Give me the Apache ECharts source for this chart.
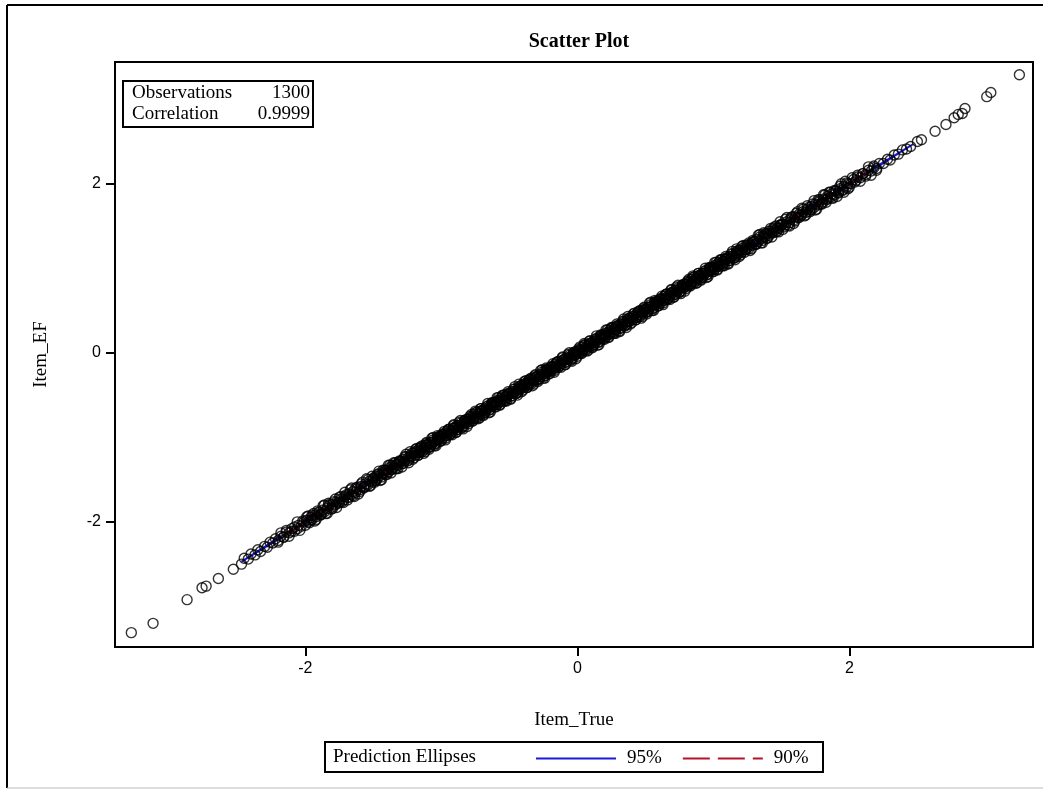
<!DOCTYPE html>
<html>
<head>
<meta charset="utf-8">
<script src="https://cdn.jsdelivr.net/npm/echarts@6/dist/echarts.min.js"></script>
<style>
html,body{margin:0;padding:0;background:#fff;}
#chart{width:1043px;height:789px;}
</style>
</head>
<body>
<div id="chart"></div>
<script>
// ---- data ----
const titleText = 'Scatter Plot';
const xName = 'Item_True';
const yName = 'Item_EF';
const tickValues = [-2, 0, 2];
const statsLabels = ['Observations', 'Correlation'];
const statsValues = ['1300', '0.9999'];
const legendTitle = 'Prediction Ellipses';
const ellipseNames = ['95%', '90%'];

// scatter points [Item_True, Item_EF]
const pointsLowTail = [
  [-3.28,-3.31],[-3.12,-3.20],[-2.87,-2.92],[-2.76,-2.78],[-2.73,-2.76],[-2.64,-2.67],[-2.53,-2.56],[-2.47,-2.50],
  [-2.45,-2.43],[-2.42,-2.44],[-2.40,-2.38],[-2.37,-2.39],[-2.35,-2.33],[-2.33,-2.35],[-2.30,-2.29],[-2.28,-2.30],
  [-2.26,-2.24],[-2.24,-2.25],[-2.22,-2.20],[-2.20,-2.22],[-2.18,-2.17],[-2.16,-2.18],[-2.14,-2.12],[-2.12,-2.13],
  [-2.10,-2.11],[-2.08,-2.06],[-2.06,-2.08],[-2.05,-2.04],[-2.03,-2.05],[-2.01,-2.00],
  [-1.99,-1.98],[-1.98,-2.00],[-1.96,-1.95],[-1.95,-1.97],[-1.93,-1.92],[-1.92,-1.94],[-1.90,-1.89],[-1.89,-1.91],
  [-1.87,-1.86],[-1.86,-1.88],[-1.84,-1.84],[-1.83,-1.81],[-1.81,-1.83],[-1.80,-1.79],[-1.78,-1.80],[-1.77,-1.76],
  [-1.75,-1.77],[-1.74,-1.73],[-1.72,-1.74],[-1.71,-1.70],[-1.69,-1.71],[-1.68,-1.67],[-1.66,-1.68],[-1.65,-1.64],
  [-1.63,-1.65],[-1.62,-1.61],[-1.60,-1.62],[-1.59,-1.58],[-1.57,-1.59],[-1.56,-1.55],[-1.54,-1.56],[-1.53,-1.52],[-1.51,-1.53]
];
const pointsCore = [
  [-1.50,-1.49],[-1.49,-1.51],[-1.48,-1.46],[-1.47,-1.48],[-1.46,-1.43],[-1.45,-1.45],[-1.44,-1.47],[-1.43,-1.42],[-1.42,-1.43],[-1.41,-1.39],
  [-1.40,-1.39],[-1.39,-1.41],[-1.38,-1.36],[-1.37,-1.38],[-1.36,-1.33],[-1.35,-1.35],[-1.34,-1.37],[-1.33,-1.32],[-1.32,-1.33],[-1.31,-1.29],
  [-1.30,-1.29],[-1.29,-1.31],[-1.28,-1.26],[-1.27,-1.28],[-1.26,-1.23],[-1.25,-1.25],[-1.24,-1.27],[-1.23,-1.22],[-1.22,-1.23],[-1.21,-1.19],
  [-1.20,-1.19],[-1.19,-1.21],[-1.18,-1.16],[-1.17,-1.18],[-1.16,-1.13],[-1.15,-1.15],[-1.14,-1.17],[-1.13,-1.12],[-1.12,-1.13],[-1.11,-1.09],
  [-1.10,-1.09],[-1.09,-1.11],[-1.08,-1.06],[-1.07,-1.08],[-1.06,-1.03],[-1.05,-1.05],[-1.04,-1.07],[-1.03,-1.02],[-1.02,-1.03],[-1.01,-0.99],
  [-1.00,-0.99],[-0.99,-1.01],[-0.98,-0.96],[-0.97,-0.98],[-0.96,-0.93],[-0.95,-0.95],[-0.94,-0.97],[-0.93,-0.92],[-0.92,-0.93],[-0.91,-0.89],
  [-0.90,-0.89],[-0.89,-0.91],[-0.88,-0.86],[-0.87,-0.88],[-0.86,-0.83],[-0.85,-0.85],[-0.84,-0.87],[-0.83,-0.82],[-0.82,-0.83],[-0.81,-0.79],
  [-0.80,-0.79],[-0.79,-0.81],[-0.78,-0.76],[-0.77,-0.78],[-0.76,-0.73],[-0.75,-0.75],[-0.74,-0.77],[-0.73,-0.72],[-0.72,-0.73],[-0.71,-0.69],
  [-0.70,-0.69],[-0.69,-0.71],[-0.68,-0.66],[-0.67,-0.68],[-0.66,-0.63],[-0.65,-0.65],[-0.64,-0.67],[-0.63,-0.62],[-0.62,-0.63],[-0.61,-0.59],
  [-0.60,-0.59],[-0.59,-0.61],[-0.58,-0.56],[-0.57,-0.58],[-0.56,-0.53],[-0.55,-0.55],[-0.54,-0.57],[-0.53,-0.52],[-0.52,-0.53],[-0.51,-0.49],
  [-0.50,-0.49],[-0.49,-0.51],[-0.48,-0.46],[-0.47,-0.48],[-0.46,-0.43],[-0.45,-0.45],[-0.44,-0.47],[-0.43,-0.42],[-0.42,-0.43],[-0.41,-0.39],
  [-0.40,-0.39],[-0.39,-0.41],[-0.38,-0.36],[-0.37,-0.38],[-0.36,-0.33],[-0.35,-0.35],[-0.34,-0.37],[-0.33,-0.32],[-0.32,-0.33],[-0.31,-0.29],
  [-0.30,-0.29],[-0.29,-0.31],[-0.28,-0.26],[-0.27,-0.28],[-0.26,-0.23],[-0.25,-0.25],[-0.24,-0.27],[-0.23,-0.22],[-0.22,-0.23],[-0.21,-0.19],
  [-0.20,-0.19],[-0.19,-0.21],[-0.18,-0.16],[-0.17,-0.18],[-0.16,-0.13],[-0.15,-0.15],[-0.14,-0.17],[-0.13,-0.12],[-0.12,-0.13],[-0.11,-0.09],
  [-0.10,-0.09],[-0.09,-0.11],[-0.08,-0.06],[-0.07,-0.08],[-0.06,-0.03],[-0.05,-0.05],[-0.04,-0.07],[-0.03,-0.02],[-0.02,-0.03],[-0.01,0.01],
  [0.00,0.01],[0.01,-0.01],[0.02,0.04],[0.03,0.02],[0.04,0.07],[0.05,0.05],[0.06,0.03],[0.07,0.08],[0.08,0.07],[0.09,0.11],
  [0.10,0.11],[0.11,0.09],[0.12,0.14],[0.13,0.12],[0.14,0.17],[0.15,0.15],[0.16,0.13],[0.17,0.18],[0.18,0.17],[0.19,0.21],
  [0.20,0.21],[0.21,0.19],[0.22,0.24],[0.23,0.22],[0.24,0.27],[0.25,0.25],[0.26,0.23],[0.27,0.28],[0.28,0.27],[0.29,0.31],
  [0.30,0.31],[0.31,0.29],[0.32,0.34],[0.33,0.32],[0.34,0.37],[0.35,0.35],[0.36,0.33],[0.37,0.38],[0.38,0.37],[0.39,0.41],
  [0.40,0.41],[0.41,0.39],[0.42,0.44],[0.43,0.42],[0.44,0.47],[0.45,0.45],[0.46,0.43],[0.47,0.48],[0.48,0.47],[0.49,0.51],
  [0.50,0.51],[0.51,0.49],[0.52,0.54],[0.53,0.52],[0.54,0.57],[0.55,0.55],[0.56,0.53],[0.57,0.58],[0.58,0.57],[0.59,0.61],
  [0.60,0.61],[0.61,0.59],[0.62,0.64],[0.63,0.62],[0.64,0.67],[0.65,0.65],[0.66,0.63],[0.67,0.68],[0.68,0.67],[0.69,0.71],
  [0.70,0.71],[0.71,0.69],[0.72,0.74],[0.73,0.72],[0.74,0.77],[0.75,0.75],[0.76,0.73],[0.77,0.78],[0.78,0.77],[0.79,0.81],
  [0.80,0.81],[0.81,0.79],[0.82,0.84],[0.83,0.82],[0.84,0.87],[0.85,0.85],[0.86,0.83],[0.87,0.88],[0.88,0.87],[0.89,0.91],
  [0.90,0.91],[0.91,0.89],[0.92,0.94],[0.93,0.92],[0.94,0.97],[0.95,0.95],[0.96,0.93],[0.97,0.98],[0.98,0.97],[0.99,1.01],
  [1.00,1.01],[1.01,0.99],[1.02,1.04],[1.03,1.02],[1.04,1.07],[1.05,1.05],[1.06,1.03],[1.07,1.08],[1.08,1.07],[1.09,1.11],
  [1.10,1.11],[1.11,1.09],[1.12,1.14],[1.13,1.12],[1.14,1.17],[1.15,1.15],[1.16,1.13],[1.17,1.18],[1.18,1.17],[1.19,1.21],
  [1.20,1.21],[1.21,1.19],[1.22,1.24],[1.23,1.22],[1.24,1.27],[1.25,1.25],[1.26,1.23],[1.27,1.28],[1.28,1.27],[1.29,1.31],
  [1.30,1.31],[1.31,1.29],[1.32,1.34],[1.33,1.32],[1.34,1.37],[1.35,1.35],[1.36,1.33],[1.37,1.38],[1.38,1.37],[1.39,1.41],
  [1.40,1.41],[1.41,1.39],[1.42,1.44],[1.43,1.42],[1.44,1.47],[1.45,1.45],[1.46,1.43],[1.47,1.48],[1.48,1.47],[1.49,1.51],[1.50,1.51]
];
const pointsSpread = [
  [-1.99,-1.94],[-1.97,-2.01],[-1.95,-1.92],[-1.93,-1.99],[-1.91,-1.87],[-1.89,-1.92],[-1.87,-1.81],[-1.85,-1.90],[-1.83,-1.78],[-1.81,-1.85],
  [-1.79,-1.76],[-1.77,-1.83],[-1.75,-1.71],[-1.73,-1.76],[-1.71,-1.65],[-1.69,-1.74],[-1.67,-1.62],[-1.65,-1.69],[-1.63,-1.60],[-1.61,-1.67],
  [-1.59,-1.55],[-1.57,-1.60],[-1.55,-1.49],[-1.53,-1.58],[-1.51,-1.46],[-1.49,-1.53],[-1.47,-1.44],[-1.45,-1.51],[-1.43,-1.39],[-1.41,-1.44],
  [-1.39,-1.33],[-1.37,-1.42],[-1.35,-1.30],[-1.33,-1.37],[-1.31,-1.28],[-1.29,-1.35],[-1.27,-1.23],[-1.25,-1.28],[-1.23,-1.17],[-1.21,-1.26],
  [-1.19,-1.14],[-1.17,-1.21],[-1.15,-1.12],[-1.13,-1.19],[-1.11,-1.07],[-1.09,-1.12],[-1.07,-1.01],[-1.05,-1.10],[-1.03,-0.98],[-1.01,-1.05],
  [-0.99,-0.96],[-0.97,-1.03],[-0.95,-0.91],[-0.93,-0.96],[-0.91,-0.85],[-0.89,-0.94],[-0.87,-0.82],[-0.85,-0.89],[-0.83,-0.80],[-0.81,-0.87],
  [-0.79,-0.75],[-0.77,-0.80],[-0.75,-0.69],[-0.73,-0.78],[-0.71,-0.66],[-0.69,-0.73],[-0.67,-0.64],[-0.65,-0.71],[-0.63,-0.59],[-0.61,-0.64],
  [-0.59,-0.53],[-0.57,-0.62],[-0.55,-0.50],[-0.53,-0.57],[-0.51,-0.48],[-0.49,-0.55],[-0.47,-0.43],[-0.45,-0.48],[-0.43,-0.37],[-0.41,-0.46],
  [-0.39,-0.34],[-0.37,-0.41],[-0.35,-0.32],[-0.33,-0.39],[-0.31,-0.27],[-0.29,-0.32],[-0.27,-0.21],[-0.25,-0.30],[-0.23,-0.18],[-0.21,-0.25],
  [-0.19,-0.16],[-0.17,-0.23],[-0.15,-0.11],[-0.13,-0.16],[-0.11,-0.05],[-0.09,-0.14],[-0.07,-0.02],[-0.05,-0.09],[-0.03,0.00],[-0.01,-0.07],
  [0.01,0.05],[0.03,0.00],[0.05,0.11],[0.07,0.02],[0.09,0.14],[0.11,0.07],[0.13,0.16],[0.15,0.09],[0.17,0.21],[0.19,0.16],
  [0.21,0.27],[0.23,0.18],[0.25,0.30],[0.27,0.23],[0.29,0.32],[0.31,0.25],[0.33,0.37],[0.35,0.32],[0.37,0.43],[0.39,0.34],
  [0.41,0.46],[0.43,0.39],[0.45,0.48],[0.47,0.41],[0.49,0.53],[0.51,0.48],[0.53,0.59],[0.55,0.50],[0.57,0.62],[0.59,0.55],
  [0.61,0.64],[0.63,0.57],[0.65,0.69],[0.67,0.64],[0.69,0.75],[0.71,0.66],[0.73,0.78],[0.75,0.71],[0.77,0.80],[0.79,0.73],
  [0.81,0.85],[0.83,0.80],[0.85,0.91],[0.87,0.82],[0.89,0.94],[0.91,0.87],[0.93,0.96],[0.95,0.89],[0.97,1.01],[0.99,0.96],
  [1.01,1.07],[1.03,0.98],[1.05,1.10],[1.07,1.03],[1.09,1.12],[1.11,1.05],[1.13,1.17],[1.15,1.12],[1.17,1.23],[1.19,1.14],
  [1.21,1.26],[1.23,1.19],[1.25,1.28],[1.27,1.21],[1.29,1.33],[1.31,1.28],[1.33,1.39],[1.35,1.30],[1.37,1.42],[1.39,1.35],
  [1.41,1.44],[1.43,1.37],[1.45,1.49],[1.47,1.44],[1.49,1.55],[1.51,1.46],[1.53,1.58],[1.55,1.51],[1.57,1.60],[1.59,1.53],
  [1.61,1.65],[1.63,1.60],[1.65,1.71],[1.67,1.62],[1.69,1.74],[1.71,1.67],[1.73,1.76],[1.75,1.69],[1.77,1.81],[1.79,1.76],
  [1.81,1.87],[1.83,1.78],[1.85,1.90],[1.87,1.83],[1.89,1.92],[1.91,1.85],[1.93,1.97],[1.95,1.92],[1.97,2.03],[1.99,1.94]
];
const pointsSpread2 = [
  [-2.20,-2.24],[-2.18,-2.13],[-2.16,-2.18],[-2.14,-2.10],[-2.12,-2.17],[-2.10,-2.08],[-2.08,-2.11],[-2.06,-2.00],[-2.04,-2.10],[-2.02,-1.99],
  [-2.00,-2.04],[-1.98,-1.93],[-1.96,-1.98],[-1.94,-1.90],[-1.92,-1.97],[-1.90,-1.88],[-1.88,-1.91],[-1.86,-1.80],[-1.84,-1.90],[-1.82,-1.79],
  [-1.80,-1.84],[-1.78,-1.73],[-1.76,-1.78],[-1.74,-1.70],[-1.72,-1.77],[-1.70,-1.68],[-1.68,-1.71],[-1.66,-1.60],[-1.64,-1.70],[-1.62,-1.59],
  [-1.60,-1.64],[-1.58,-1.53],[-1.56,-1.58],[-1.54,-1.50],[-1.52,-1.57],[-1.50,-1.48],[-1.48,-1.51],[-1.46,-1.40],[-1.44,-1.50],[-1.42,-1.39],
  [-1.40,-1.44],[-1.38,-1.33],[-1.36,-1.38],[-1.34,-1.30],[-1.32,-1.37],[-1.30,-1.28],[-1.28,-1.31],[-1.26,-1.20],[-1.24,-1.30],[-1.22,-1.19],
  [-1.20,-1.24],[-1.18,-1.13],[-1.16,-1.18],[-1.14,-1.10],[-1.12,-1.17],[-1.10,-1.08],[-1.08,-1.11],[-1.06,-1.00],[-1.04,-1.10],[-1.02,-0.99],
  [-1.00,-1.04],[-0.98,-0.93],[-0.96,-0.98],[-0.94,-0.90],[-0.92,-0.97],[-0.90,-0.88],[-0.88,-0.91],[-0.86,-0.80],[-0.84,-0.90],[-0.82,-0.79],
  [-0.80,-0.84],[-0.78,-0.73],[-0.76,-0.78],[-0.74,-0.70],[-0.72,-0.77],[-0.70,-0.68],[-0.68,-0.71],[-0.66,-0.60],[-0.64,-0.70],[-0.62,-0.59],
  [-0.60,-0.64],[-0.58,-0.53],[-0.56,-0.58],[-0.54,-0.50],[-0.52,-0.57],[-0.50,-0.48],[-0.48,-0.51],[-0.46,-0.40],[-0.44,-0.50],[-0.42,-0.39],
  [-0.40,-0.44],[-0.38,-0.33],[-0.36,-0.38],[-0.34,-0.30],[-0.32,-0.37],[-0.30,-0.28],[-0.28,-0.31],[-0.26,-0.20],[-0.24,-0.30],[-0.22,-0.19],
  [-0.20,-0.24],[-0.18,-0.13],[-0.16,-0.18],[-0.14,-0.10],[-0.12,-0.17],[-0.10,-0.08],[-0.08,-0.11],[-0.06,0.00],[-0.04,-0.10],[-0.02,0.01],
  [0.00,-0.04],[0.02,0.07],[0.04,0.02],[0.06,0.10],[0.08,0.03],[0.10,0.12],[0.12,0.09],[0.14,0.20],[0.16,0.10],[0.18,0.21],
  [0.20,0.16],[0.22,0.27],[0.24,0.22],[0.26,0.30],[0.28,0.23],[0.30,0.32],[0.32,0.29],[0.34,0.40],[0.36,0.30],[0.38,0.41],
  [0.40,0.36],[0.42,0.47],[0.44,0.42],[0.46,0.50],[0.48,0.43],[0.50,0.52],[0.52,0.49],[0.54,0.60],[0.56,0.50],[0.58,0.61],
  [0.60,0.56],[0.62,0.67],[0.64,0.62],[0.66,0.70],[0.68,0.63],[0.70,0.72],[0.72,0.69],[0.74,0.80],[0.76,0.70],[0.78,0.81],
  [0.80,0.76],[0.82,0.87],[0.84,0.82],[0.86,0.90],[0.88,0.83],[0.90,0.92],[0.92,0.89],[0.94,1.00],[0.96,0.90],[0.98,1.01],
  [1.00,0.96],[1.02,1.07],[1.04,1.02],[1.06,1.10],[1.08,1.03],[1.10,1.12],[1.12,1.09],[1.14,1.20],[1.16,1.10],[1.18,1.21],
  [1.20,1.16],[1.22,1.27],[1.24,1.22],[1.26,1.30],[1.28,1.23],[1.30,1.32],[1.32,1.29],[1.34,1.40],[1.36,1.30],[1.38,1.41],
  [1.40,1.36],[1.42,1.47],[1.44,1.42],[1.46,1.50],[1.48,1.43],[1.50,1.52],[1.52,1.49],[1.54,1.60],[1.56,1.50],[1.58,1.61],
  [1.60,1.56],[1.62,1.67],[1.64,1.62],[1.66,1.70],[1.68,1.63],[1.70,1.72],[1.72,1.69],[1.74,1.80],[1.76,1.70],[1.78,1.81],
  [1.80,1.76],[1.82,1.87],[1.84,1.82],[1.86,1.90],[1.88,1.83],[1.90,1.92],[1.92,1.89],[1.94,2.00],[1.96,1.90],[1.98,2.01],
  [2.00,1.96],[2.02,2.07],[2.04,2.02],[2.06,2.10],[2.08,2.03],[2.10,2.12],[2.12,2.09],[2.14,2.20],[2.16,2.10],[2.18,2.21],
  [2.20,2.16]
];
const pointsCenter = [
  [-1.19,-1.17],[-1.17,-1.21],[-1.15,-1.11],[-1.13,-1.15],[-1.11,-1.06],[-1.09,-1.14],[-1.07,-1.06],[-1.05,-1.08],[-1.03,-1.00],[-1.01,-1.02],
  [-0.99,-0.97],[-0.97,-1.01],[-0.95,-0.91],[-0.93,-0.95],[-0.91,-0.86],[-0.89,-0.94],[-0.87,-0.86],[-0.85,-0.88],[-0.83,-0.80],[-0.81,-0.82],
  [-0.79,-0.77],[-0.77,-0.81],[-0.75,-0.71],[-0.73,-0.75],[-0.71,-0.66],[-0.69,-0.74],[-0.67,-0.66],[-0.65,-0.68],[-0.63,-0.60],[-0.61,-0.62],
  [-0.59,-0.57],[-0.57,-0.61],[-0.55,-0.51],[-0.53,-0.55],[-0.51,-0.46],[-0.49,-0.54],[-0.47,-0.46],[-0.45,-0.48],[-0.43,-0.40],[-0.41,-0.42],
  [-0.39,-0.37],[-0.37,-0.41],[-0.35,-0.31],[-0.33,-0.35],[-0.31,-0.26],[-0.29,-0.34],[-0.27,-0.26],[-0.25,-0.28],[-0.23,-0.20],[-0.21,-0.22],
  [-0.19,-0.17],[-0.17,-0.21],[-0.15,-0.11],[-0.13,-0.15],[-0.11,-0.06],[-0.09,-0.14],[-0.07,-0.06],[-0.05,-0.08],[-0.03,0.00],[-0.01,-0.02],
  [0.01,0.03],[0.03,-0.01],[0.05,0.09],[0.07,0.05],[0.09,0.14],[0.11,0.06],[0.13,0.14],[0.15,0.12],[0.17,0.20],[0.19,0.18],
  [0.21,0.23],[0.23,0.19],[0.25,0.29],[0.27,0.25],[0.29,0.34],[0.31,0.26],[0.33,0.34],[0.35,0.32],[0.37,0.40],[0.39,0.38],
  [0.41,0.43],[0.43,0.39],[0.45,0.49],[0.47,0.45],[0.49,0.54],[0.51,0.46],[0.53,0.54],[0.55,0.52],[0.57,0.60],[0.59,0.58],
  [0.61,0.63],[0.63,0.59],[0.65,0.69],[0.67,0.65],[0.69,0.74],[0.71,0.66],[0.73,0.74],[0.75,0.72],[0.77,0.80],[0.79,0.78],
  [0.81,0.83],[0.83,0.79],[0.85,0.89],[0.87,0.85],[0.89,0.94],[0.91,0.86],[0.93,0.94],[0.95,0.92],[0.97,1.00],[0.99,0.98],
  [1.01,1.03],[1.03,0.99],[1.05,1.09],[1.07,1.05],[1.09,1.14],[1.11,1.06],[1.13,1.14],[1.15,1.12],[1.17,1.20],[1.19,1.18]
];
const pointsHighTail = [
  [1.51,1.52],[1.53,1.51],[1.54,1.55],[1.56,1.54],[1.57,1.58],[1.59,1.57],[1.60,1.61],[1.62,1.60],[1.63,1.64],[1.65,1.63],
  [1.66,1.67],[1.68,1.66],[1.69,1.70],[1.71,1.69],[1.72,1.73],[1.74,1.72],[1.75,1.76],[1.77,1.75],[1.78,1.79],[1.80,1.78],
  [1.81,1.82],[1.83,1.81],[1.84,1.85],[1.86,1.84],[1.87,1.88],[1.89,1.87],[1.90,1.91],[1.92,1.90],[1.93,1.94],[1.95,1.93],
  [1.96,1.97],[1.98,1.96],[1.99,2.00],
  [2.01,2.00],[2.03,2.05],[2.05,2.04],[2.06,2.08],[2.08,2.07],[2.10,2.12],[2.12,2.11],[2.14,2.16],[2.16,2.15],[2.18,2.19],
  [2.20,2.18],[2.22,2.24],[2.25,2.24],[2.28,2.29],[2.30,2.28],[2.33,2.34],[2.36,2.35],[2.39,2.40],[2.42,2.41],
  [2.45,2.44],[2.50,2.50],[2.53,2.52],[2.63,2.62],[2.71,2.70],[2.77,2.78],[2.80,2.82],[2.83,2.83],[2.85,2.89],
  [3.01,3.03],[3.04,3.08],[3.25,3.29]
];
// prediction ellipse outlines [Item_True, Item_EF]
const ellipse95 = [[-2.47,-2.47],[-1.75,-1.765],[0,-0.02],[1.75,1.735],[2.47,2.47],[1.75,1.765],[0,0.02],[-1.75,-1.735],[-2.47,-2.47]];
const ellipse90 = [[-2.17,-2.17],[-1.55,-1.565],[0,-0.018],[1.55,1.535],[2.17,2.17],[1.55,1.565],[0,0.018],[-1.55,-1.535],[-2.17,-2.17]];

// ---- chart ----
const serif = '"Liberation Serif","Times New Roman",serif';
const sans = '"Liberation Sans",Arial,sans-serif';
const allPoints = pointsLowTail.concat(pointsCore, pointsSpread, pointsSpread2, pointsCenter, pointsHighTail);

const chart = echarts.init(document.getElementById('chart'), null, {renderer: 'canvas'});
chart.setOption({
  backgroundColor: '#fff',
  animation: false,
  title: [{
    text: titleText,
    left: 574, top: 27, textAlign: 'center',
    textStyle: {fontFamily: serif, fontWeight: 'bold', fontSize: 20, color: '#000'}
  }, {
    text: '{a|' + statsLabels[0] + '}{b|' + statsValues[0] + '}\n{a|' + statsLabels[1] + '}{b|' + statsValues[1] + '}',
    left: 123, top: 80,
    borderColor: '#000', borderWidth: 2,
    padding: [3, 3, 3, 9],
    textStyle: {
      fontWeight: 'normal',
      rich: {
        a: {fontFamily: serif, fontWeight: 'normal', fontSize: 19, color: '#000', width: 110, lineHeight: 21},
        b: {fontFamily: serif, fontWeight: 'normal', fontSize: 19, color: '#000', width: 68, align: 'right', lineHeight: 21}
      }
    }
  }],
  grid: {left: 115, right: 10, top: 62, bottom: 142, show: true, borderColor: '#000', borderWidth: 2, backgroundColor: 'transparent'},
  xAxis: {
    type: 'value', min: -3.40, max: 3.35,
    name: xName, nameLocation: 'middle', nameGap: 64,
    nameTextStyle: {fontFamily: serif, fontSize: 19, color: '#000'},
    axisLine: {show: false, onZero: false},
    splitLine: {show: false},
    axisTick: {show: true, inside: false, customValues: tickValues, length: 9, lineStyle: {color: '#000', width: 2}},
    axisLabel: {customValues: tickValues, fontFamily: sans, fontSize: 16, color: '#000', margin: 14}
  },
  yAxis: {
    type: 'value', min: -3.48, max: 3.44,
    name: yName, nameLocation: 'middle', nameGap: 64, nameRotate: 90,
    nameTextStyle: {fontFamily: serif, fontSize: 19, color: '#000'},
    axisLine: {show: false, onZero: false},
    splitLine: {show: false},
    axisTick: {show: true, inside: false, customValues: tickValues, length: 9, lineStyle: {color: '#000', width: 2}},
    axisLabel: {customValues: tickValues, fontFamily: sans, fontSize: 16, color: '#000', margin: 14}
  },
  legend: {
    data: ellipseNames,
    left: 535, top: 749,
    itemWidth: 80, itemHeight: 14, itemGap: 20,
    padding: 0,
    itemStyle: {opacity: 0},
    textStyle: {fontFamily: serif, fontSize: 19, color: '#000', padding: [0, 0, 0, 6]},
    selectedMode: false
  },
  graphic: [
    {type: 'line', shape: {x1: 7, y1: 5, x2: 1043, y2: 5}, style: {stroke: '#000', lineWidth: 2}},
    {type: 'line', shape: {x1: 7, y1: 5, x2: 7, y2: 788}, style: {stroke: '#000', lineWidth: 2}},
    {type: 'line', shape: {x1: 7, y1: 788, x2: 1043, y2: 788}, style: {stroke: '#bbb', lineWidth: 1}},
    {type: 'rect', shape: {x: 325, y: 742, width: 498, height: 30}, style: {fill: 'none', stroke: '#000', lineWidth: 2}},
    {type: 'text', x: 333, y: 757, style: {text: legendTitle, font: '19px ' + serif, fill: '#000', verticalAlign: 'middle'}}
  ],
  series: [{
    type: 'scatter',
    data: allPoints,
    symbol: 'circle',
    symbolSize: 10,
    large: false,
    progressive: 0,
    itemStyle: {color: 'rgba(0,0,0,0)', borderColor: '#000', borderWidth: 1.4},
    emphasis: {disabled: true},
    z: 4
  }, {
    name: ellipseNames[0],
    type: 'line',
    data: ellipse95,
    smooth: true,
    symbol: 'none',
    lineStyle: {color: '#1a1adf', width: 2, type: 'solid'},
    itemStyle: {color: '#1a1adf'},
    z: 2
  }, {
    name: ellipseNames[1],
    type: 'line',
    data: ellipse90,
    smooth: true,
    symbol: 'none',
    lineStyle: {color: '#b3142a', width: 2, type: [27, 8]},
    itemStyle: {color: '#b3142a'},
    z: 3
  }]
});
</script>
</body>
</html>
